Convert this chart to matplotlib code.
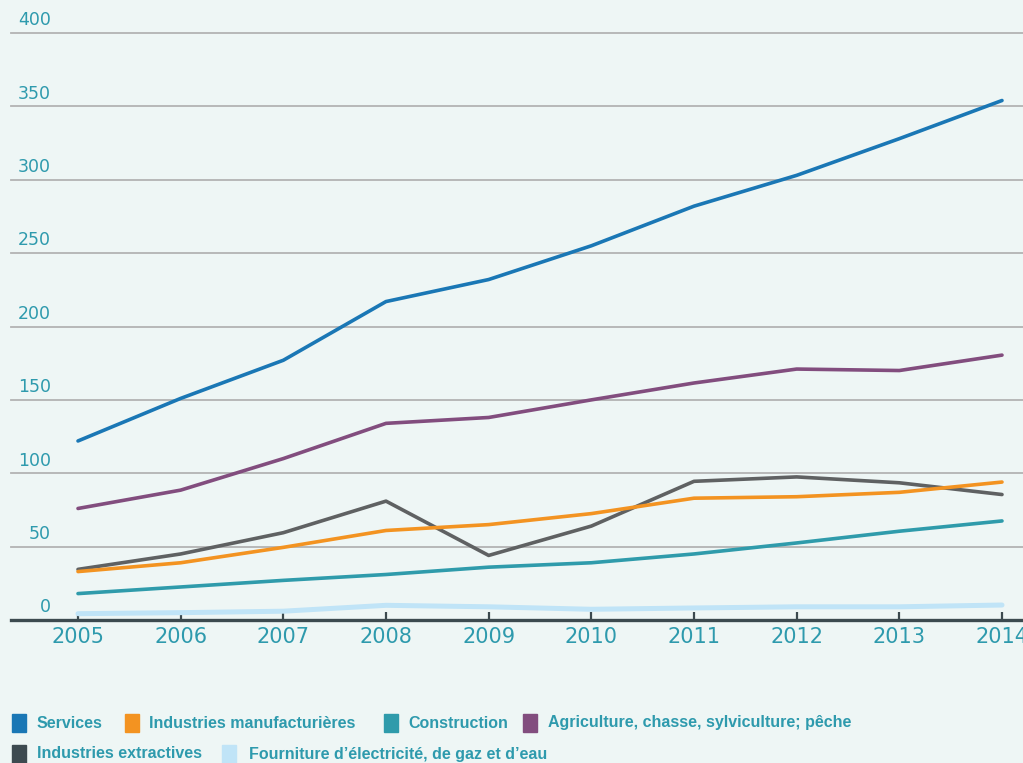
import matplotlib.pyplot as plt
from matplotlib.patches import Rectangle
from matplotlib.transforms import blended_transform_factory

years = [2005, 2006, 2007, 2008, 2009, 2010, 2011, 2012, 2013, 2014]

services = [122, 151, 177, 217, 232, 255, 282, 303, 328, 354]
manufacturing = [33, 39, 49.5, 61, 65, 72.5, 83, 84, 87, 94]
construction = [18, 22.5, 27, 31, 36, 39, 45, 52.5, 60.5, 67.5]
agriculture = [76, 88.5, 110, 134, 138, 150, 161.5, 171, 170, 180.5]
extractives = [34.5, 45, 59.5, 81, 44, 64, 94.5, 97.5, 93.5, 85.5]
utilities = [4.3, 5, 6, 10, 9, 7.3, 8.2, 9, 9, 10.2]

labels = ["Services", "Industries manufacturières", "Construction",
          "Agriculture, chasse, sylviculture; pêche",
          "Industries extractives", "Fourniture d’électricité, de gaz et d’eau"]
yticks = [0, 50, 100, 150, 200, 250, 300, 350, 400]

bg = "#eef6f5"
teal_text = "#2e9aad"
c_serv = "#1a77b5"
c_manu = "#f39321"
c_cons = "#2f9bab"
c_agri = "#824d7e"
c_extr = "#5f6162"
c_extr_patch = "#3d4a50"
c_util = "#c0e4f7"

W, H = 1023, 763
fig = plt.figure(figsize=(W / 100, H / 100), dpi=100, facecolor=bg)
ax = fig.add_axes([11 / W, 1 - 620 / H, 1 - 11 / W, (620 - 33) / H])
ax.set_facecolor(bg)

ax.set_xlim(2005 - 67 / 102.67, 2014 + 21 / 102.67)
ax.set_ylim(0, 400)

# gridlines
for v in yticks[1:]:
    ax.axhline(v, color="#b3b3b3", lw=1.3, zorder=1, clip_on=False)

# lines
ax.plot(years, utilities, color=c_util, lw=3.6, zorder=2, solid_capstyle="round")
ax.plot(years, construction, color=c_cons, lw=2.6, zorder=3, solid_capstyle="round")
ax.plot(years, extractives, color=c_extr, lw=2.6, zorder=3, solid_capstyle="round")
ax.plot(years, manufacturing, color=c_manu, lw=2.6, zorder=4, solid_capstyle="round")
ax.plot(years, agriculture, color=c_agri, lw=2.6, zorder=4, solid_capstyle="round")
ax.plot(years, services, color=c_serv, lw=2.6, zorder=5, solid_capstyle="round")

for s in ["top", "right", "left"]:
    ax.spines[s].set_visible(False)
ax.spines["bottom"].set_color("#3c4a4f")
ax.spines["bottom"].set_linewidth(2.4)
ax.spines["bottom"].set_zorder(6)

ax.set_xticks(years)
ax.set_xticklabels([str(y) for y in years], fontsize=15, color=teal_text,
                   family="DejaVu Sans")
ax.tick_params(axis="x", direction="in", length=6, width=1.6,
               color="#3c4a4f", pad=5)
ax.set_yticks([])

# y labels sitting above each gridline
tr = blended_transform_factory(fig.transFigure, ax.transData)
for v in yticks:
    ax.text(51 / W, v + 2.5, str(v), transform=tr, ha="right", va="bottom",
            fontsize=12.5, color=teal_text, family="DejaVu Sans")

# legend drawn by hand
legend_colors = [c_serv, c_manu, c_cons, c_agri, c_extr_patch, c_util]
legend_pos = [(12, 37, 723), (125, 149, 723), (384, 408, 723), (523, 548, 723),
              (12, 37, 754), (222, 249, 754)]
for col, lab, (sx, tx, cy) in zip(legend_colors, labels, legend_pos):
    fig.patches.append(Rectangle((sx / W, 1 - (cy + 9) / H), 14 / W, 18 / H,
                                 transform=fig.transFigure, color=col))
    fig.text(tx / W, 1 - cy / H, lab, ha="left", va="center",
             fontsize=11.5, fontweight="bold", color=teal_text,
             family=["Liberation Sans Narrow", "Liberation Sans"])

fig.savefig("out.png", dpi=100, facecolor=bg)
